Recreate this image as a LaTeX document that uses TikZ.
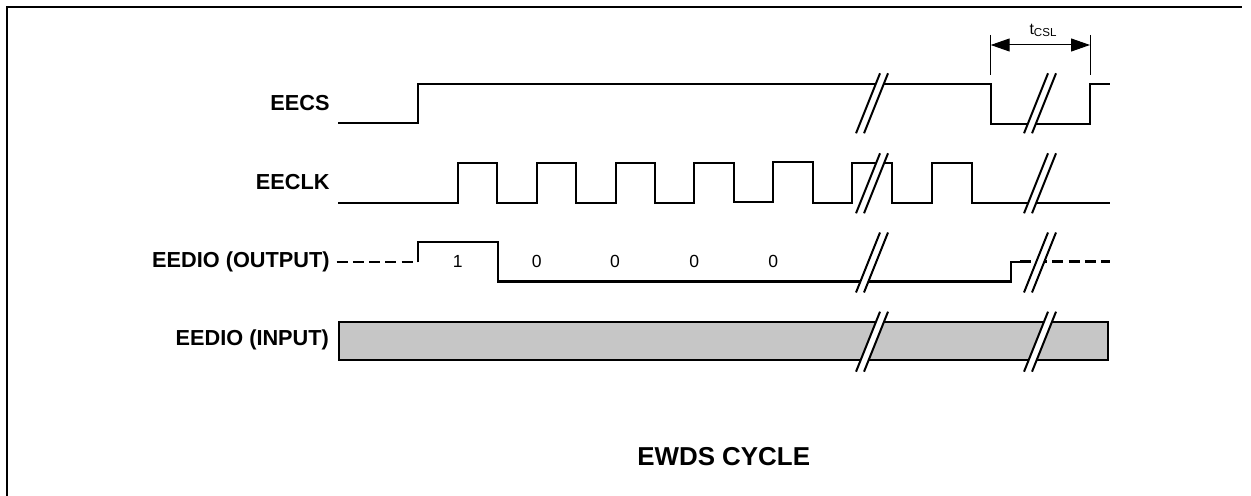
\documentclass[tikz,border=0pt]{standalone}
\usepackage{fontspec}
\setmainfont{Liberation Sans}
\usetikzlibrary{arrows.meta}
\tikzset{
  sig/.style={line width=1.15bp, line join=miter},
  dsig/.style={line width=1.4bp, dash pattern=on 5.5bp off 2.6bp},
  lbl/.style={anchor=east, inner sep=0pt, font=\fontsize{10.9}{13}\selectfont\bfseries},
  bitlbl/.style={inner sep=0pt, font=\fontsize{8.8}{10}\selectfont},
  dimline/.style={line width=0.5bp},
  breakline/.style={line width=1bp},
  brk/.pic={
    \fill[white] (-16,30) -- (8,-30) -- (16,-30) -- (-8,30) -- cycle;
    \draw[breakline] (-16,30) -- (8,-30) (-8,30) -- (16,-30);
  }
}
\definecolor{stipple}{RGB}{198,198,198}
\begin{document}
\begin{tikzpicture}[x=0.5bp, y=-0.5bp]
\useasboundingbox (0,0) rectangle (1251,496);
% frame
\draw[line width=1bp] (6.8,496) -- (6.8,6.8) -- (1241.5,6.8);

% labels
\node[lbl] (lcs)  at (330,103)   {EECS};
\node[lbl] (lclk) at (330,182.5) {EECLK};
\node[lbl] (lout) at (330,261.7) {EEDIO (OUTPUT)};
\node[lbl] (lin)  at (329.3,340) {EEDIO (INPUT)};

% EECS
\draw[sig] (338,123.3) -- (417.7,123.3) -- (417.7,84) -- (990.7,84) -- (990.7,124)
  -- (1090,124) -- (1090,84) -- (1110,84);

% EECLK
\draw[sig] (338,202.7)
  -- (457.7,202.7) -- (457.7,163.3) -- (496.7,163.3) -- (496.7,202.7)
  -- (536.7,202.7) -- (536.7,163.3) -- (576,163.3)   -- (576,202.7)
  -- (615.7,202.7) -- (615.7,163.3) -- (655,163.3)   -- (655,202.7)
  -- (694.3,202.7) -- (694.3,163.3) -- (734,163.3)   -- (734,201.7)
  -- (773.3,201.7) -- (773.3,161.7) -- (812.7,161.7) -- (812.7,202.7)
  -- (852.3,202.7) -- (852.3,163.3) -- (891.7,163.3) -- (891.7,202.7)
  -- (931.7,202.7) -- (931.7,163.3) -- (972.3,163.3) -- (972.3,202.7)
  -- (1110,202.7);

% EEDIO output
\draw[dsig] (336.7,262) -- (416,262);
\draw[sig] (417.7,262.5) -- (417.7,242) -- (497.7,242) -- (497.7,281.5)
  -- (1010.7,281.5) -- (1010.7,261.7) -- (1020,261.7);
\draw[dsig] (1020,261.7) -- (1110,261.7);
\node[bitlbl] (b1) at (457.7,261.7) {1};
\node[bitlbl] (b2) at (536.7,261.7) {0};
\node[bitlbl] (b3) at (615,261.7)   {0};
\node[bitlbl] (b4) at (694.3,261.7) {0};
\node[bitlbl] (b5) at (773.3,261.7) {0};

% EEDIO input
\draw[sig, fill=stipple] (339,321.7) rectangle (1108.3,360);

% breaks
\foreach \cy in {103.3,183.3,262.5,341.7}{
  \pic at (872,\cy) {brk};
  \pic at (1040,\cy) {brk};
}

% tCSL dimension
\coordinate (t1a) at (990.7,35);
\coordinate (t1b) at (990.7,75);
\coordinate (t2a) at (1090,35);
\coordinate (t2b) at (1090,75);
\coordinate (d1) at (990.7,45);
\coordinate (d2) at (1090,45);
\draw[dimline] (t1a) -- (t1b);
\draw[dimline] (t2a) -- (t2b);
\draw[dimline, {Triangle[length=9.5bp,width=6.5bp]}-{Triangle[length=9.5bp,width=6.5bp]}] (d1) -- (d2);
\node[inner sep=0pt, anchor=base, font=\fontsize{8}{9}\selectfont] (tcsl) at (1043,35)
  {t\raisebox{-1bp}{\fontsize{5.8}{6}\selectfont CSL}};

% title
\node[inner sep=0pt, font=\fontsize{13}{15}\selectfont\bfseries] (title) at (723.7,456.7) {EWDS CYCLE};
\end{tikzpicture}
\end{document}
